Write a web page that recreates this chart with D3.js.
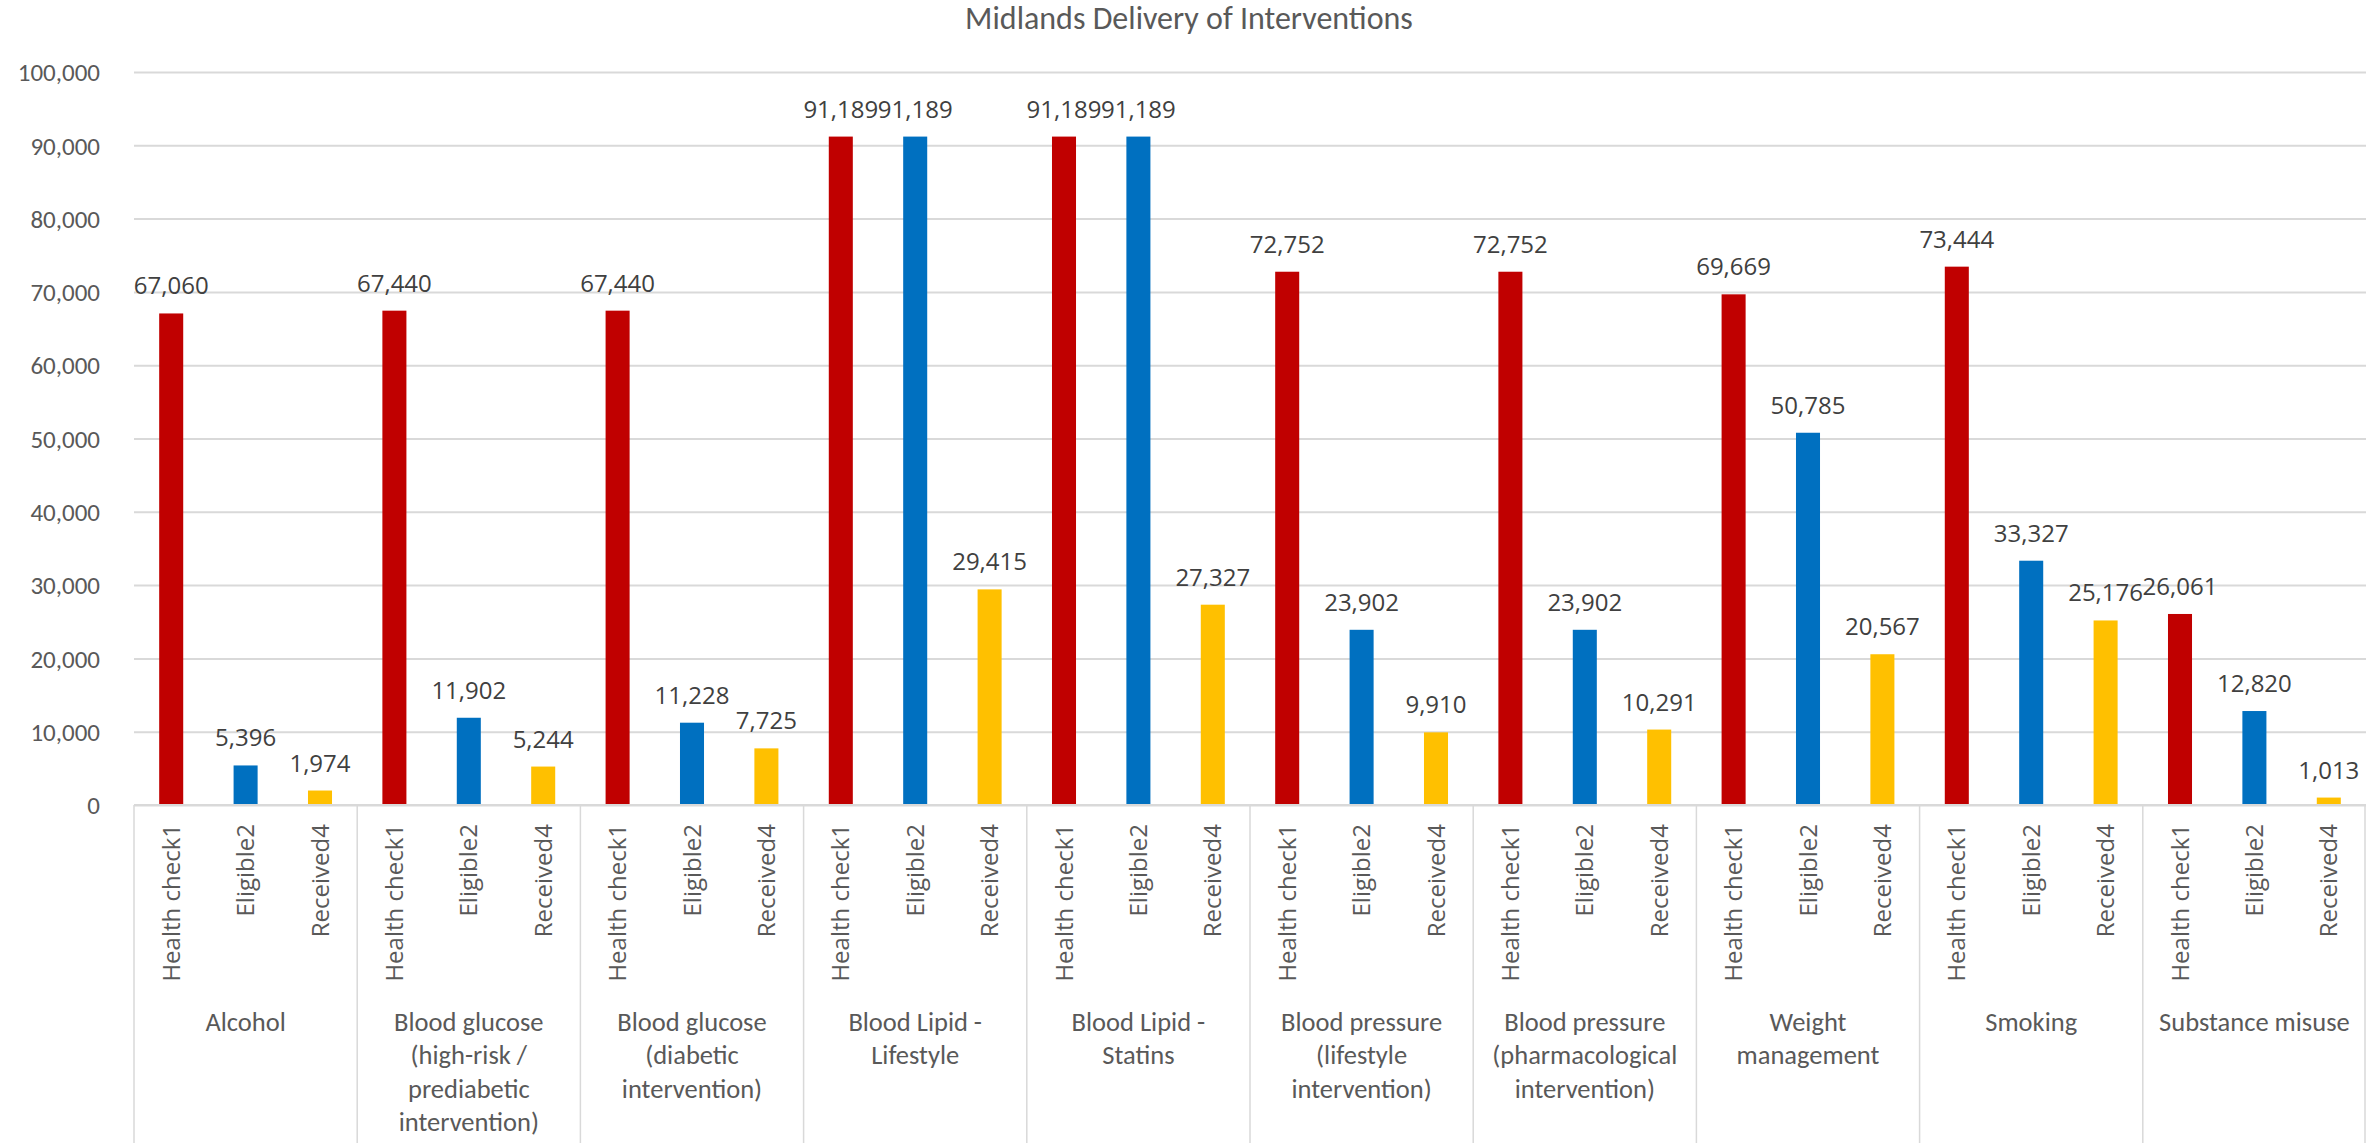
<!DOCTYPE html>
<html>
<head>
<meta charset="utf-8">
<script src="https://cdn.jsdelivr.net/npm/d3@7"></script>
<style>
  html, body { margin: 0; padding: 0; background: #fff; }
  svg { display: block; }
</style>
</head>
<body>
<svg id="chart" width="2366" height="1143"></svg>
<script>
// Intervention categories (x groups); "\n" marks a line break in the label
const categories = [
  "Alcohol",
  "Blood glucose\n(high-risk /\nprediabetic\nintervention)",
  "Blood glucose\n(diabetic\nintervention)",
  "Blood Lipid -\nLifestyle",
  "Blood Lipid -\nStatins",
  "Blood pressure\n(lifestyle\nintervention)",
  "Blood pressure\n(pharmacological\nintervention)",
  "Weight\nmanagement",
  "Smoking",
  "Substance misuse"
];

// Series names, shown under each bar
const seriesNames = ["Health check1", "Eligible2", "Received4"];

// Series values, one per category
const healthCheck = [67060, 67440, 67440, 91189, 91189, 72752, 72752, 69669, 73444, 26061];
const eligible    = [5396, 11902, 11228, 91189, 91189, 23902, 23902, 50785, 33327, 12820];
const received    = [1974, 5244, 7725, 29415, 27327, 9910, 10291, 20567, 25176, 1013];

// Y axis ticks
const yTicks = [0, 10000, 20000, 30000, 40000, 50000, 60000, 70000, 80000, 90000, 100000];

const title = "Midlands Delivery of Interventions";

// ---- layout ----
const W = 2366, H = 1143;
const plot = { left: 134, right: 2366, top: 72, bottom: 805 };
const colors = ["#C00000", "#0070C0", "#FFC000"];
const textColor = "#595959";
const gridColor = "#D9D9D9";
const bodyFont = "Calibri, Carlito, Lato, sans-serif";
const uiFont = "'Segoe UI', 'Open Sans', 'Noto Sans', sans-serif";

const seriesValues = [healthCheck, eligible, received];
const rows = [];
categories.forEach((c, ci) => {
  seriesNames.forEach((s, si) => {
    rows.push({ category: c, series: s, si, value: seriesValues[si][ci] });
  });
});

const svg = d3.select("#chart");

const x0 = d3.scaleBand()
  .domain(categories)
  .range([plot.left, plot.right])
  .padding(0);

const x1 = d3.scaleBand()
  .domain(seriesNames)
  .range([0, x0.bandwidth()])
  .paddingInner(0.677)
  .paddingOuter(0.677 / 2);

const y = d3.scaleLinear()
  .domain([0, 100000])
  .range([plot.bottom, plot.top]);

const fmt = d3.format(",");

// Title
svg.append("text")
  .attr("x", 1189)
  .attr("y", 28.5)
  .attr("text-anchor", "middle")
  .attr("font-family", bodyFont)
  .attr("font-size", 32)
  .attr("fill", textColor)
  .text(title);

// Horizontal gridlines and y tick labels
const yAxis = d3.axisLeft(y)
  .tickValues(yTicks)
  .tickFormat(fmt)
  .tickSize(-(plot.right - plot.left))
  .tickPadding(34);

const gy = svg.append("g")
  .attr("transform", `translate(${plot.left},0)`)
  .call(yAxis);
gy.select(".domain").remove();
gy.selectAll(".tick line")
  .attr("stroke", gridColor)
  .attr("stroke-width", 2);
gy.selectAll(".tick text")
  .attr("font-family", bodyFont)
  .attr("font-size", 25)
  .attr("fill", textColor)
  .attr("dy", "0.35em");

// Bars
svg.append("g")
  .selectAll("rect")
  .data(rows)
  .join("rect")
  .attr("x", d => x0(d.category) + x1(d.series))
  .attr("y", d => y(d.value))
  .attr("width", x1.bandwidth())
  .attr("height", d => y(0) - y(d.value))
  .attr("fill", d => colors[d.si]);

// Value labels above bars
svg.append("g")
  .selectAll("text")
  .data(rows)
  .join("text")
  .attr("x", d => x0(d.category) + x1(d.series) + x1.bandwidth() / 2)
  .attr("y", d => y(d.value) - 19)
  .attr("text-anchor", "middle")
  .attr("font-family", uiFont)
  .attr("font-size", 24)
  .attr("fill", "#404040")
  .text(d => fmt(d.value));

// Category axis line
svg.append("line")
  .attr("x1", plot.left).attr("x2", plot.right)
  .attr("y1", y(0)).attr("y2", y(0))
  .attr("stroke", gridColor)
  .attr("stroke-width", 2);

// Category separators, running down from the axis
const edges = categories.map(c => x0(c)).concat([plot.right - 1]);
svg.append("g")
  .selectAll("line")
  .data(edges)
  .join("line")
  .attr("x1", d => d).attr("x2", d => d)
  .attr("y1", y(0)).attr("y2", H)
  .attr("stroke", gridColor)
  .attr("stroke-width", 1.5);

// Rotated series labels under each bar
svg.append("g")
  .selectAll("text")
  .data(rows)
  .join("text")
  .attr("transform", d => `translate(${x0(d.category) + x1(d.series) + x1.bandwidth() / 2},824) rotate(-90)`)
  .attr("text-anchor", "end")
  .attr("dy", "0.36em")
  .attr("font-family", uiFont)
  .attr("font-size", 24)
  .attr("fill", textColor)
  .text(d => d.series);

// Category names, one tspan per line
svg.append("g")
  .selectAll("text")
  .data(categories)
  .join("text")
  .attr("text-anchor", "middle")
  .attr("font-family", bodyFont)
  .attr("font-size", 26.5)
  .attr("fill", textColor)
  .each(function (c) {
    const cx = x0(c) + x0.bandwidth() / 2;
    d3.select(this)
      .selectAll("tspan")
      .data(c.split("\n"))
      .join("tspan")
      .attr("x", cx)
      .attr("y", (line, i) => 1030.5 + i * 33.5)
      .text(line => line);
  });
</script>
</body>
</html>
